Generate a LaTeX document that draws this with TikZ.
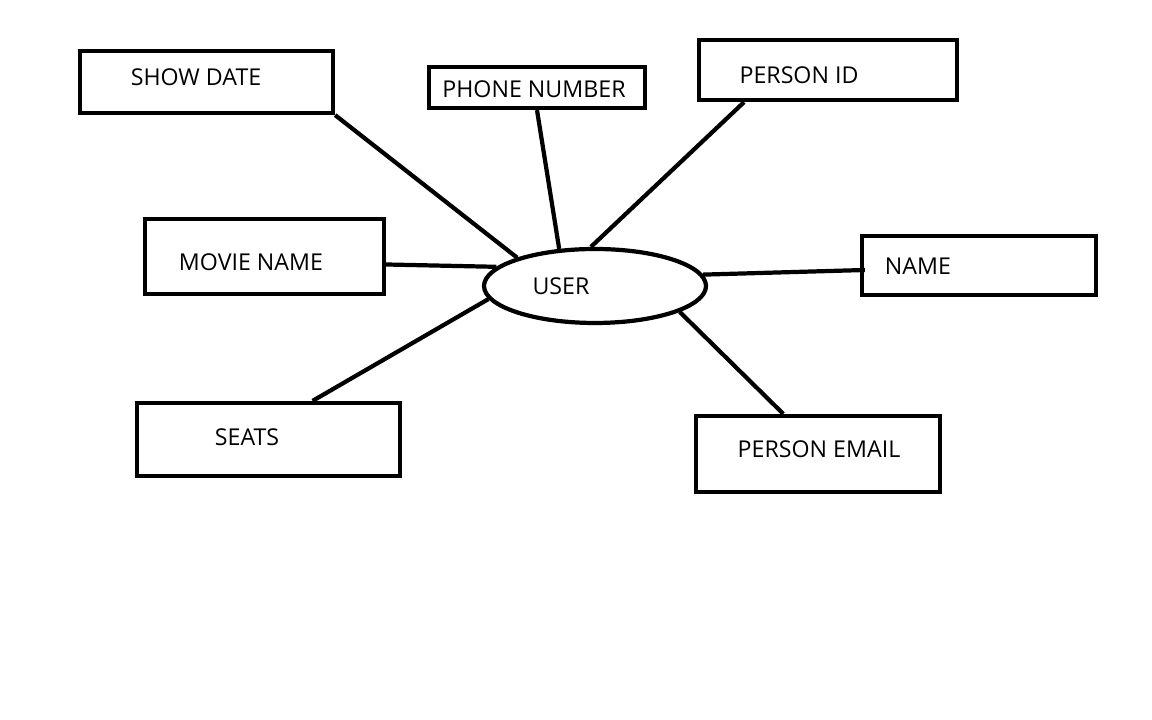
\documentclass[tikz,border=0pt]{standalone}
\usepackage{fontspec}
\setmainfont{Open Sans}
\usepackage{tikz}
\usetikzlibrary{calc,positioning,shapes.geometric}

\tikzset{
  attrbox/.style={draw=black, line width=3pt, rectangle, inner sep=0pt},
  entity/.style={draw=black, line width=3pt, ellipse, inner sep=0pt,
    minimum width=222*0.025cm, minimum height=74*0.025cm},
  label/.style={font=\fontsize{16.5}{19}\selectfont, inner sep=0pt},
  link/.style={line width=3pt}
}

\begin{document}
\begin{tikzpicture}[x=0.025cm, y=0.025cm]
      \useasboundingbox (0,0) rectangle (1152,720);
      % Attribute boxes
      \node[attrbox, minimum width=253*0.025cm, minimum height=62*0.025cm] (showdate) at (206.5,638) {};
      \node[attrbox, minimum width=216*0.025cm, minimum height=41*0.025cm] (phone) at (537,632.5) {};
      \node[attrbox, minimum width=258*0.025cm, minimum height=60*0.025cm] (personid) at (828,650) {};
      \node[attrbox, minimum width=239*0.025cm, minimum height=75*0.025cm] (moviename) at (264.5,463.5) {};
      \node[attrbox, minimum width=234*0.025cm, minimum height=59*0.025cm] (namebox) at (979,454.5) {};
      \node[attrbox, minimum width=263*0.025cm, minimum height=73*0.025cm] (seats) at (268.5,280.5) {};
      \node[attrbox, minimum width=244*0.025cm, minimum height=76*0.025cm] (personemail) at (818,266) {};
      % Entity
      \node[entity] (user) at (595,434) {};
      % Texts
      \node[label] (showdate-t) at (196,643) {SHOW DATE};
      \node[label] (phone-t) at (534,631) {PHONE NUMBER};
      \node[label] (personid-t) at (799,645) {PERSON ID};
      \node[label] (moviename-t) at (251,458) {MOVIE NAME};
      \node[label] (namebox-t) at (918,454) {NAME};
      \node[label] (seats-t) at (247,283) {SEATS};
      \node[label] (personemail-t) at (819,271) {PERSON EMAIL};
      \node[label] (user-t) at (561,434) {USER};
      % Links
      \draw[link] (showdate.south east) -- (user.160);
      \draw[link] (phone.south) -- (user.134);
      \draw[link] ($(personid.south west)!0.18!(personid.south east)$) -- (user.96);
      \draw[link] ($(moviename.east)+(0,-8)$) -- (user.169);
      \draw[link] ($(namebox.west)+(5,-4.5)$) -- (user.6);
      \draw[link] ($(seats.north west)!0.665!(seats.north east)$) -- (user.187);
      \draw[link] ($(personemail.north west)!0.36!(personemail.north east)$) -- (user.343);
    \end{tikzpicture}
\end{document}
